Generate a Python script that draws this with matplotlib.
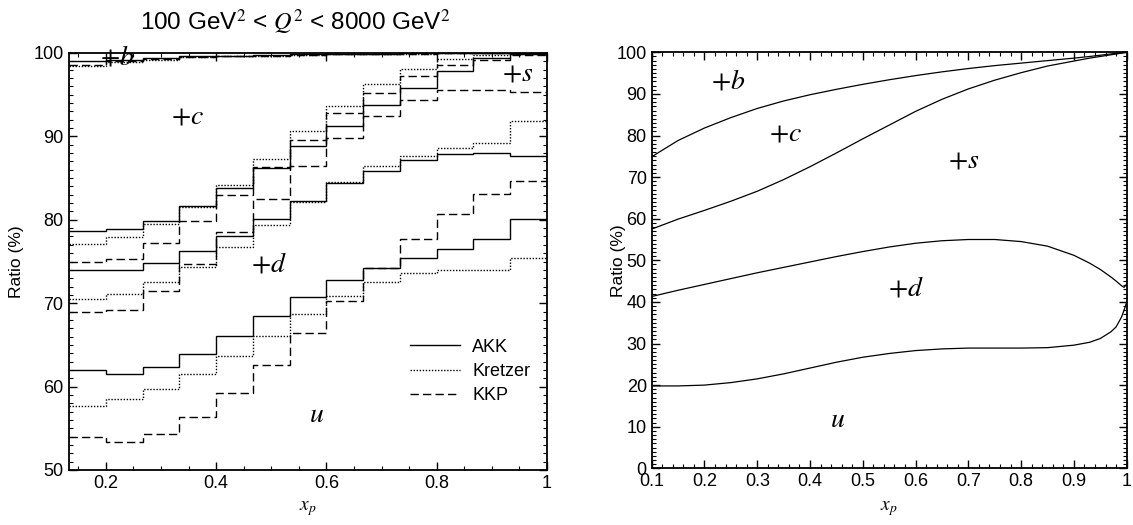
import matplotlib
matplotlib.use("Agg")
import matplotlib.pyplot as plt
from matplotlib.ticker import MultipleLocator, FuncFormatter
from matplotlib.lines import Line2D

plt.rcParams['font.family'] = ['Liberation Sans', 'DejaVu Sans']
plt.rcParams['mathtext.fontset'] = 'stix'

# ---------------- left panel data (bin edges in x_p, cumulative ratios in %) ----------------
bin_edges = [0.1333, 0.2, 0.2667, 0.3333, 0.4, 0.4667, 0.5333, 0.6,
             0.6667, 0.7333, 0.8, 0.8667, 0.9333, 1.0]

akk_u    = [62.0, 61.5, 62.3, 63.9, 66.1, 68.5, 70.8, 72.8, 74.2, 75.4, 76.5, 77.7, 80.1]
akk_ud   = [74.0, 74.0, 74.8, 76.2, 78.1, 80.1, 82.3, 84.4, 85.9, 87.2, 87.9, 88.0, 87.6]
akk_uds  = [78.7, 78.9, 79.9, 81.7, 83.8, 86.2, 88.8, 91.2, 93.8, 95.8, 97.8, 99.4, 99.9]
akk_udsc = [99.0, 99.2, 99.4, 99.6, 99.7, 99.8, 99.85, 99.9, 99.9, 99.95, 99.95, 100.0, 100.0]

kretzer_u    = [57.7, 58.5, 59.7, 61.5, 63.7, 66.1, 68.7, 70.9, 72.5, 73.6, 74.0, 74.0, 75.4]
kretzer_ud   = [70.5, 71.1, 72.5, 74.4, 76.7, 79.4, 82.1, 84.5, 86.4, 87.6, 88.6, 89.2, 91.8]
kretzer_uds  = [77.1, 77.9, 79.5, 81.5, 84.2, 87.3, 90.6, 93.7, 96.3, 98.1, 99.3, 99.8, 99.9]
kretzer_udsc = [98.4, 98.9, 99.2, 99.5, 99.6, 99.7, 99.8, 99.85, 99.9, 99.9, 99.95, 100.0, 100.0]

kkp_u    = [54.0, 53.3, 54.3, 56.4, 59.2, 62.6, 66.4, 70.3, 74.2, 77.7, 80.7, 83.1, 84.6]
kkp_ud   = [69.0, 69.2, 71.5, 74.7, 78.5, 82.5, 86.4, 89.8, 92.5, 94.4, 95.6, 95.6, 95.3]
kkp_uds  = [74.9, 75.3, 77.2, 79.9, 83.0, 86.3, 89.6, 92.8, 95.2, 97.3, 98.6, 99.2, 99.8]
kkp_udsc = [98.6, 99.0, 99.3, 99.5, 99.6, 99.7, 99.8, 99.85, 99.9, 99.9, 99.95, 100.0, 100.0]

set_names = ['AKK', 'Kretzer', 'KKP']

# ---------------- right panel data ----------------
xp_curve = [0.1, 0.15, 0.2, 0.25, 0.3, 0.35, 0.4, 0.45, 0.5, 0.55, 0.6, 0.65, 0.7,
            0.75, 0.8, 0.85, 0.9, 0.93, 0.95, 0.97, 0.98, 0.99, 0.995, 1.0]
curve_udsc = [74.9, 78.8, 81.8, 84.3, 86.5, 88.3, 89.8, 91.1, 92.3, 93.4, 94.4, 95.3, 96.1,
              96.8, 97.4, 98.0, 98.6, 99.0, 99.3, 99.6, 99.75, 99.9, 99.95, 100.0]
curve_uds = [57.5, 59.9, 62.0, 64.2, 66.6, 69.4, 72.5, 75.8, 79.2, 82.5, 85.8, 88.7, 91.2,
             93.3, 95.1, 96.7, 97.9, 98.6, 99.0, 99.4, 99.6, 99.8, 99.9, 100.0]
curve_ud = [41.3, 42.8, 44.2, 45.6, 47.0, 48.3, 49.6, 50.9, 52.1, 53.2, 54.1, 54.7, 55.0,
            55.0, 54.5, 53.4, 51.2, 49.3, 47.8, 46.0, 45.0, 43.9, 43.5, 44.3]
curve_u = [19.8, 19.8, 20.0, 20.6, 21.5, 22.7, 24.1, 25.5, 26.7, 27.6, 28.3, 28.7, 28.9,
           28.9, 28.9, 29.0, 29.6, 30.3, 31.2, 32.8, 34.0, 36.3, 38.0, 40.0]

W, H = 1133, 525
fig = plt.figure(figsize=(W / 100, H / 100), dpi=100)
ax1 = fig.add_axes([69 / W, 1 - 470 / H, (547 - 69) / W, (470 - 53) / H])
ax2 = fig.add_axes([651.7 / W, 1 - 468.3 / H, (1126.7 - 651.7) / W, (468.3 - 52.3) / H])

styles = {
    'AKK': dict(color='black', lw=1.0, linestyle='-'),
    'Kretzer': dict(color='black', lw=1.0, linestyle=(0, (1, 1.2))),
    'KKP': dict(color='black', lw=1.0, linestyle=(0, (6, 3))),
}
series = {
    'AKK': [akk_u, akk_ud, akk_uds, akk_udsc],
    'Kretzer': [kretzer_u, kretzer_ud, kretzer_uds, kretzer_udsc],
    'KKP': [kkp_u, kkp_ud, kkp_uds, kkp_udsc],
}
for name in set_names:
    for vals in series[name]:
        ax1.stairs(vals, bin_edges, baseline=None, **styles[name])

ax1.set_xlim(bin_edges[0], 1.0)
ax1.set_ylim(50, 100)

for c in [curve_udsc, curve_uds, curve_ud, curve_u]:
    ax2.plot(xp_curve, c, color='black', lw=0.9)
ax2.set_xlim(0.1, 1.0)
ax2.set_ylim(0, 100)

def xfmt(v, pos):
    if abs(v - 1) < 1e-9:
        return '1'
    return '%g' % v

for ax in (ax1, ax2):
    ax.tick_params(which='both', direction='in', top=True, right=True, labelsize=13)
    ax.tick_params(which='major', length=6, width=1)
    ax.tick_params(which='minor', length=3, width=0.8)
    for sp in ax.spines.values():
        sp.set_linewidth(1.3)
    ax.xaxis.set_major_formatter(FuncFormatter(xfmt))
    ax.set_ylabel('Ratio (%)', fontsize=12.5)
    ax.set_xlabel(r'$x_p$', fontsize=14)

ax1.tick_params(axis='y', pad=4)
ax1.yaxis.set_label_coords(-0.094, 0.5)
ax1.xaxis.set_label_coords(0.5, -0.07)
ax2.yaxis.set_label_coords(-0.054, 0.5)
ax2.xaxis.set_label_coords(0.5, -0.074)

ax1.xaxis.set_major_locator(MultipleLocator(0.2))
ax1.xaxis.set_minor_locator(MultipleLocator(0.05))
ax1.yaxis.set_major_locator(MultipleLocator(10))
ax1.yaxis.set_minor_locator(MultipleLocator(1))
ax2.xaxis.set_major_locator(MultipleLocator(0.1))
ax2.xaxis.set_minor_locator(MultipleLocator(0.02))
ax2.yaxis.set_major_locator(MultipleLocator(10))
ax2.yaxis.set_minor_locator(MultipleLocator(1))

# region labels
lab = dict(fontsize=20, ha='center', va='center')
ax1.text(0.22, 99.5, r'$+b$', **lab)
ax1.text(0.348, 92.4, r'$+c$', **lab)
ax1.text(0.946, 97.6, r'$+s$', **lab)
ax1.text(0.495, 74.6, r'$+d$', **lab)
ax1.text(0.583, 56.6, r'$u$', **lab)

ax2.text(0.244, 92.9, r'$+b$', **lab)
ax2.text(0.354, 80.5, r'$+c$', **lab)
ax2.text(0.690, 74.1, r'$+s$', **lab)
ax2.text(0.581, 43.3, r'$+d$', **lab)
ax2.text(0.452, 11.6, r'$u$', **lab)

handles = [Line2D([], [], **styles[n]) for n in set_names]
ax1.legend(handles, set_names, loc='upper left', bbox_to_anchor=(0.713, 0.315),
           frameon=False, fontsize=13, handlelength=2.8, handletextpad=0.65,
           labelspacing=0.4, borderpad=0, borderaxespad=0)

fig.text(295 / W, 1 - 22 / H, r'100 GeV$^2$ < $Q^2$ < 8000 GeV$^2$',
         ha='center', va='center', fontsize=17.5)

fig.savefig('out.png', dpi=100)
